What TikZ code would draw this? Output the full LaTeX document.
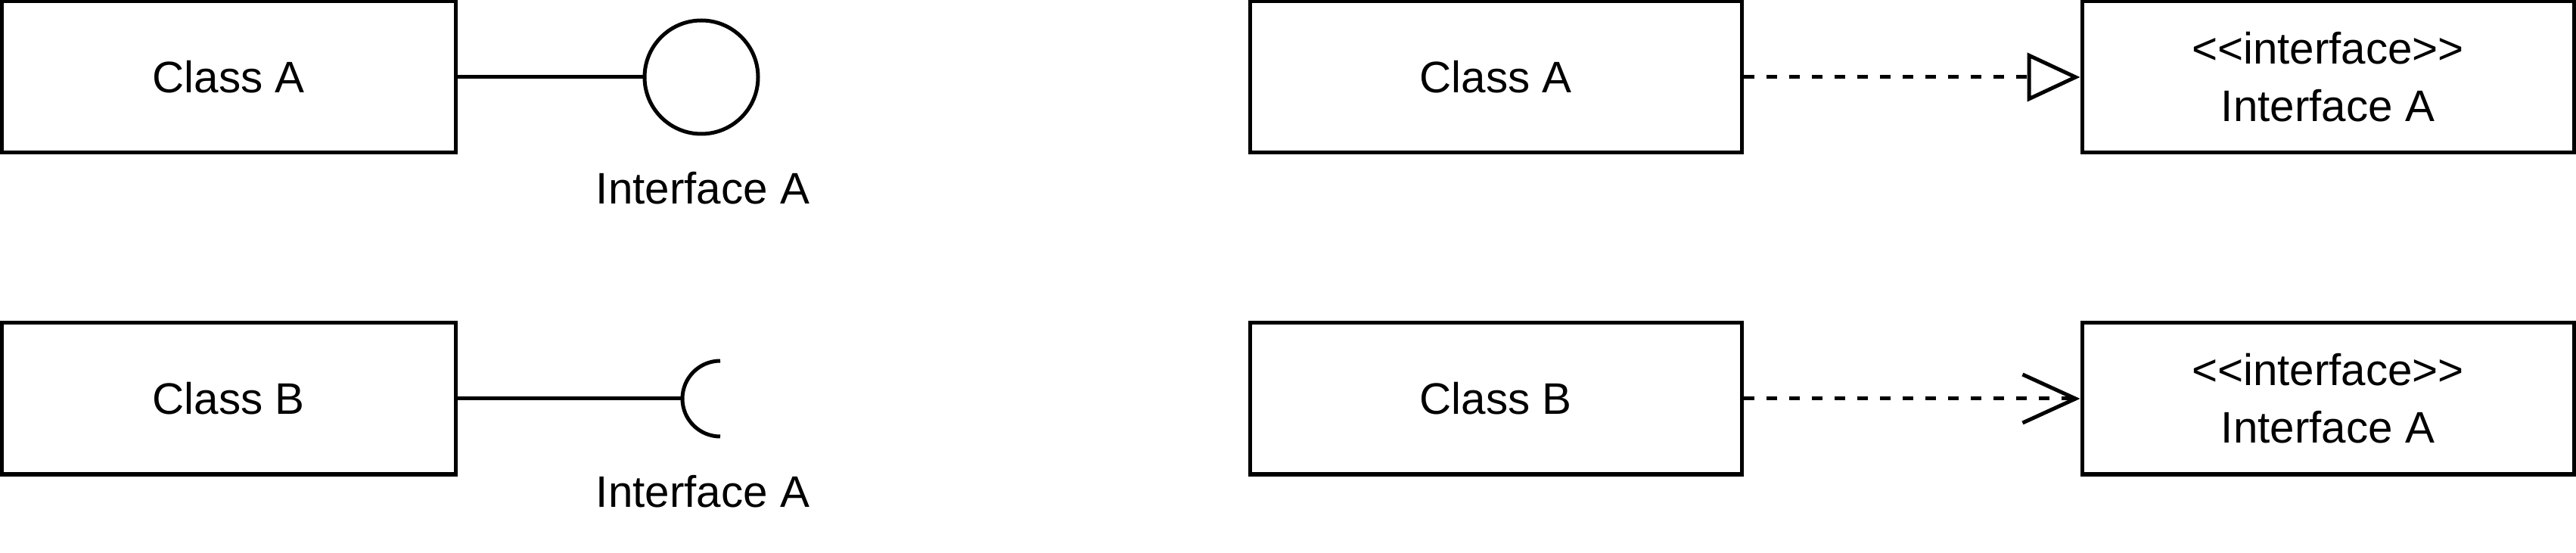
\documentclass[tikz,border=0pt]{standalone}
\usepackage{fontspec}
\setmainfont{Liberation Sans}[Ligatures=TeXOff]
\usetikzlibrary{arrows.meta}

\tikzset{
    umlfont/.style={font=\fontsize{16.6}{21.6}\selectfont},
    classbox/.style={draw, rectangle, umlfont, minimum height=2cm},
    ballsym/.style={draw, circle, minimum size=1.5cm, inner sep=0pt},
    realize/.style={dash pattern=on 0.14cm off 0.16cm},
}

\begin{document}
\begin{tikzpicture}[line width=0.05cm]
    \useasboundingbox (0,0) rectangle (34.05,7.30);

    % lollipop notation
    \node[classbox, minimum width=6cm] (clsA) at (3.02,6.28) {Class A};
    \node[ballsym] (ball) at (9.27,6.28) {};
    \node[umlfont, anchor=base] (ballLbl) at (9.29,4.60) {Interface A};
    \draw (clsA.east) -- (ball.west);

    % socket notation
    \node[classbox, minimum width=6cm] (clsB) at (3.02,2.03) {Class B};
    \coordinate (sock) at (9.02,2.03);
    \node[umlfont, anchor=base] (sockLbl) at (9.29,0.60) {Interface A};
    \draw (clsB.east) -- (sock);
    \draw (sock) arc[start angle=180, end angle=90, radius=0.5]; %upper half of the cup
    \draw (sock) arc[start angle=180, end angle=270, radius=0.5];

    % realization with interface box
    \node[classbox, minimum width=6.5cm] (clsA2) at (19.77,6.28) {Class A};
    \node[classbox, minimum width=6.5cm, align=center] (ifcA) at (30.77,6.28) {<<interface>>\\Interface A};
    \draw[realize, -{Triangle[open, length=0.7cm, width=0.64cm]}] (clsA2.east) -- (ifcA.west);

    % dependency with interface box
    \node[classbox, minimum width=6.5cm] (clsB2) at (19.77,2.03) {Class B};
    \node[classbox, minimum width=6.5cm, align=center] (ifcB) at (30.77,2.03) {<<interface>>\\Interface A};
    \draw[realize, -{Straight Barb[length=0.7cm, width=0.64cm]}] (clsB2.east) -- (ifcB.west);
\end{tikzpicture}
\end{document}
